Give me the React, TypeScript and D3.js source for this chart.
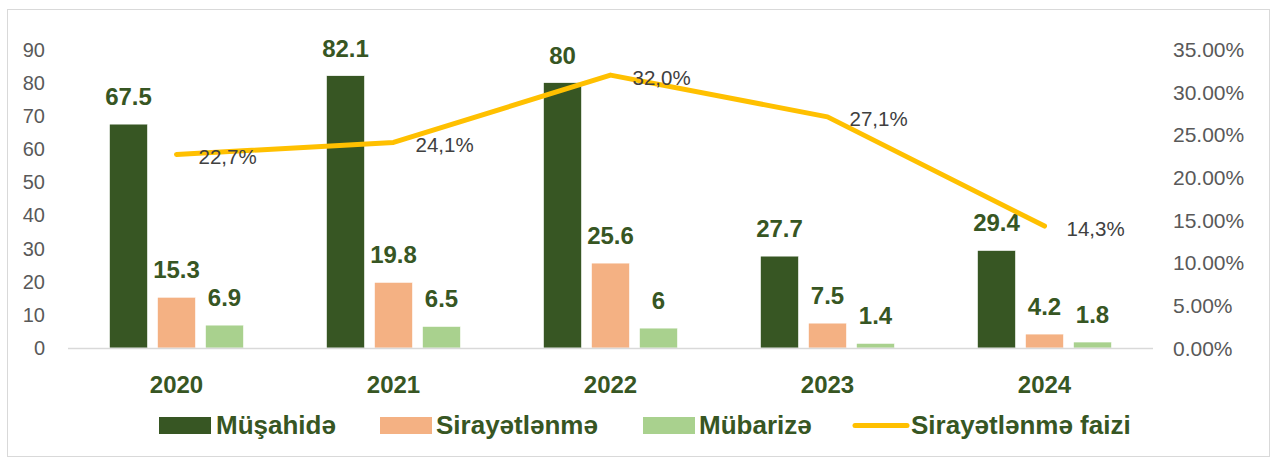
import React from "react";
import * as d3 from "d3";

const years = ["2020", "2021", "2022", "2023", "2024"];
const musahide = [67.5, 82.1, 80, 27.7, 29.4];
const sirayetlenme = [15.3, 19.8, 25.6, 7.5, 4.2];
const mubarize = [6.9, 6.5, 6, 1.4, 1.8];
const faiz = [22.7, 24.1, 32.0, 27.1, 14.3];
const faizLabels = ["22,7%", "24,1%", "32,0%", "27,1%", "14,3%"];
const barLabels = [
  ["67.5", "82.1", "80", "27.7", "29.4"],
  ["15.3", "19.8", "25.6", "7.5", "4.2"],
  ["6.9", "6.5", "6", "1.4", "1.8"],
];
const leftTicks = [0, 10, 20, 30, 40, 50, 60, 70, 80, 90];
const rightTicks = [0, 5, 10, 15, 20, 25, 30, 35];
const seriesNames = ["Müşahidə", "Sirayətlənmə", "Mübarizə", "Sirayətlənmə faizi"];

const W = 1277;
const H = 459;
const DARK = "#375623";
const SALMON = "#F4B183";
const LIGHT = "#A9D18E";
const GOLD = "#FFC000";
const FONT = "'Liberation Sans', Arial, sans-serif";

export default function App() {
  const plotLeft = 68;
  const plotRight = 1153;
  const yTop = 49.5;
  const yBottom = 348;

  const x = d3.scaleBand<string>().domain(years).range([plotLeft, plotRight]).padding(0);
  const yL = d3.scaleLinear().domain([0, 90]).range([yBottom, yTop]);
  const yR = d3.scaleLinear().domain([0, 35]).range([yBottom, yTop]);

  const series = [musahide, sirayetlenme, mubarize];
  const colors = [DARK, SALMON, LIGHT];
  const barW = 38;
  const offsets = [-48, 0, 48];

  const cx = (y: string) => (x(y) as number) + x.bandwidth() / 2;

  const line = d3
    .line<number>()
    .x((_, i) => cx(years[i]))
    .y((d) => yR(d));

  const legendItems = [
    { type: "rect", color: DARK, x0: 159, tx: 216 },
    { type: "rect", color: SALMON, x0: 380, tx: 436 },
    { type: "rect", color: LIGHT, x0: 643, tx: 699 },
    { type: "line", color: GOLD, x0: 853, tx: 911 },
  ];

  return (
    <svg
      width={W}
      height={H}
      style={{ position: "absolute", left: 0, top: 0, background: "#fff" }}
      fontFamily={FONT}
    >
      <rect x={7.5} y={9.5} width={1262} height={447} fill="#fff" stroke="#d9d9d9" strokeWidth={1} />

      {/* left axis labels */}
      {leftTicks.map((t) => (
        <text key={"l" + t} x={45} y={yL(t)} textAnchor="end" dominantBaseline="central" fontSize={20} fill="#595959">
          {t}
        </text>
      ))}
      {/* right axis labels */}
      {rightTicks.map((t) => (
        <text key={"r" + t} x={1173} y={yR(t)} textAnchor="start" dominantBaseline="central" fontSize={21} fill="#595959">
          {t.toFixed(2) + "%"}
        </text>
      ))}

      {/* bars */}
      {series.map((s, si) =>
        s.map((v, i) => {
          const bx = cx(years[i]) + offsets[si] - barW / 2;
          return (
            <rect
              key={`b${si}-${i}`}
              x={bx}
              y={yL(v)}
              width={barW}
              height={yL(0) - yL(v)}
              fill={colors[si]}
              stroke="#fff"
              strokeWidth={0.6}
            />
          );
        })
      )}

      {/* baseline */}
      <line x1={plotLeft} x2={plotRight} y1={yBottom + 0.5} y2={yBottom + 0.5} stroke="#d9d9d9" strokeWidth={1.5} />

      {/* bar labels */}
      {series.map((s, si) =>
        s.map((v, i) => (
          <text
            key={`bl${si}-${i}`}
            x={cx(years[i]) + offsets[si]}
            y={yL(v) - 19}
            textAnchor="middle"
            fontSize={24}
            fontWeight="bold"
            fill={DARK}
          >
            {barLabels[si][i]}
          </text>
        ))
      )}

      {/* line */}
      <path d={line(faiz) || ""} fill="none" stroke={GOLD} strokeWidth={5} strokeLinecap="round" strokeLinejoin="round" />

      {/* line labels */}
      {faiz.map((v, i) => (
        <text
          key={"fl" + i}
          x={cx(years[i]) + 22}
          y={yR(v) + 2}
          dominantBaseline="central"
          fontSize={20.5}
          fill="#404040"
        >
          {faizLabels[i]}
        </text>
      ))}

      {/* category labels */}
      {years.map((y) => (
        <text key={"c" + y} x={cx(y)} y={384} textAnchor="middle" dominantBaseline="central" fontSize={24} fontWeight="bold" fill={DARK}>
          {y}
        </text>
      ))}

      {/* legend */}
      {legendItems.map((it, i) => (
        <g key={"lg" + i}>
          {it.type === "rect" ? (
            <rect x={it.x0} y={417} width={52} height={17} fill={it.color} />
          ) : (
            <line x1={it.x0 + 2} x2={it.x0 + 54} y1={425.5} y2={425.5} stroke={it.color} strokeWidth={5} strokeLinecap="round" />
          )}
          <text x={it.tx} y={434} fontSize={26} fontWeight="bold" fill={DARK}>
            {seriesNames[i]}
          </text>
        </g>
      ))}
    </svg>
  );
}
